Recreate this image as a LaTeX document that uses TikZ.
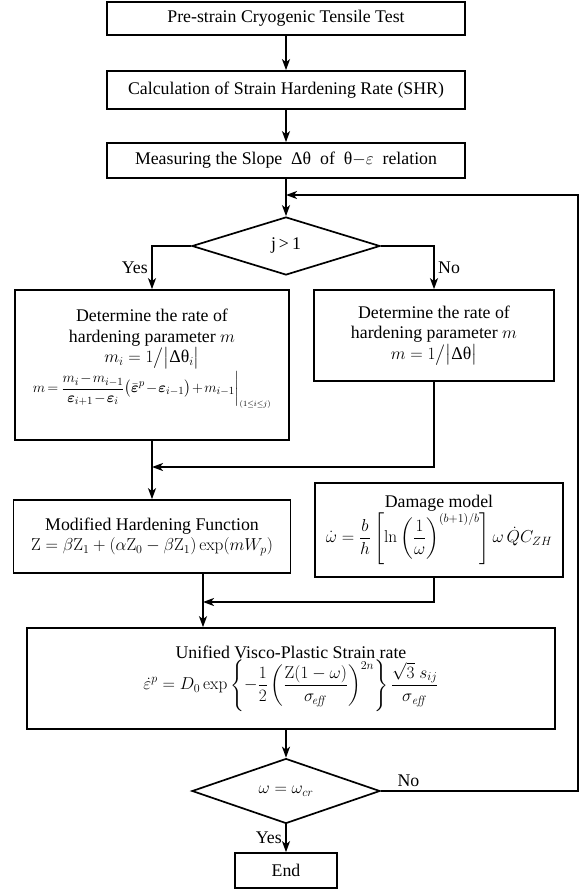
\documentclass[tikz,border=0pt]{standalone}
\usepackage{amsmath}
\usepackage[no-math]{fontspec}
\setmainfont{Liberation Serif}
\usetikzlibrary{arrows.meta,shapes.geometric}

\begin{document}
\begin{tikzpicture}[x=1pt,y=-1pt,line width=1.7pt,font=\fontsize{17.8}{20.5}\selectfont,
  box/.style={draw,rectangle,align=center,inner sep=2pt},
  check/.style={draw,diamond,inner sep=0pt},
  arr/.style={-{Stealth[length=11pt,width=8pt,inset=3pt]}}]
\useasboundingbox (0,0) rectangle (581,893);
\node[box,minimum width=358,minimum height=33] (pretest) at (286,18.5) {Pre-strain Cryogenic Tensile Test};
\node[box,minimum width=358,minimum height=38] (shr) at (286,90) {Calculation of Strain Hardening Rate (SHR)};
\node[box,minimum width=358,minimum height=35] (slope) at (286,160.5) {Measuring the Slope\ \ Δθ\ \ of\ \ θ$-\varepsilon$\ \ relation};
\node[check,minimum width=188,minimum height=58] (jcheck) at (286,246) {j\,>\,1};
\node[box,minimum width=274,minimum height=150] (mi) at (152,365) {Determine the rate of\\ hardening parameter $m$\\
  $m_{i} = 1\big/\big|\text{Δθ}_{i}\big|$\\[2pt]
  {\fontsize{15.8}{19}\selectfont\medmuskip=1.5mu\thickmuskip=2.5mu
  $\displaystyle m=\left.\frac{m_{i}-m_{i-1}}{\boldsymbol{\varepsilon}_{i+1}-\boldsymbol{\varepsilon}_{i}}\big(\bar{\boldsymbol{\varepsilon}}^{p}-\boldsymbol{\varepsilon}_{i-1}\big)+m_{i-1}\right|_{\scriptscriptstyle(1\le i\le j)}$}\\[8pt]};
\node[box,minimum width=240,minimum height=91] (mone) at (434,335.5) {Determine the rate of\\ hardening parameter $m$\\ $m = 1\big/\big|\text{Δθ}\big|$};
\coordinate (join1) at (152,467);
\node[box,minimum width=277,minimum height=73] (hard) at (152,536.5) {Modified Hardening Function\\
  $\mathrm{Z}=\beta\mathrm{Z}_1+(\alpha\mathrm{Z}_0-\beta\mathrm{Z}_1)\exp(mW_p)$};
\node[box,minimum width=248,minimum height=94] (damage) at (439,530) {Damage model\\
  $\displaystyle\dot{\omega}=\frac{b}{h}\left[\ln\left(\frac{1}{\omega}\right)^{(b+1)/b}\right]\omega\,\dot{Q}C_{ZH}$};
\coordinate (join2) at (203,602);
\node[box,minimum width=528,minimum height=101] (visco) at (291,678.5) {Unified Visco-Plastic Strain rate\\
  $\displaystyle\dot{\varepsilon}^{p}=D_0\exp\left\{-\frac{1}{2}\left(\frac{\mathrm{Z}(1-\omega)}{\sigma_{\!\mathit{eff}}}\right)^{2n}\right\}\frac{\sqrt{3}\;s_{ij}}{\sigma_{\mathit{eff}}}$};
\node[check,minimum width=188,minimum height=52] (wcheck) at (286,791) {$\omega=\omega_{cr}$};
\node[box,minimum width=102,minimum height=35] (finish) at (286,870.5) {End};
\coordinate (loop) at (578,195);
\draw[arr] (pretest) -- (shr);
\draw[arr] (shr) -- (slope);
\draw[arr] (slope) -- (jcheck);
\draw[arr] (jcheck.west) -| (mi.north) node[pos=0.75,left] (yes1) {Yes};
\draw[arr] (jcheck.east) -| (mone.north) node[pos=0.75,right] (no1) {No};
\draw[arr] (mi) -- (hard);
\draw[arr] (mone) |- (join1);
\draw[arr] (hard.south -| join2) -- (join2 |- visco.north);
\draw[arr] (damage.south -| mone.south) |- (join2);
\draw[arr] (visco.south -| wcheck.north) -- (wcheck);
\draw[arr] (wcheck) -- (finish) node[midway,left] (yes2) {Yes};
\draw[arr] (wcheck.east) -| (loop) node[pos=0.07,above] (no2) {No} -- (loop -| jcheck.north);
\end{tikzpicture}
\end{document}
